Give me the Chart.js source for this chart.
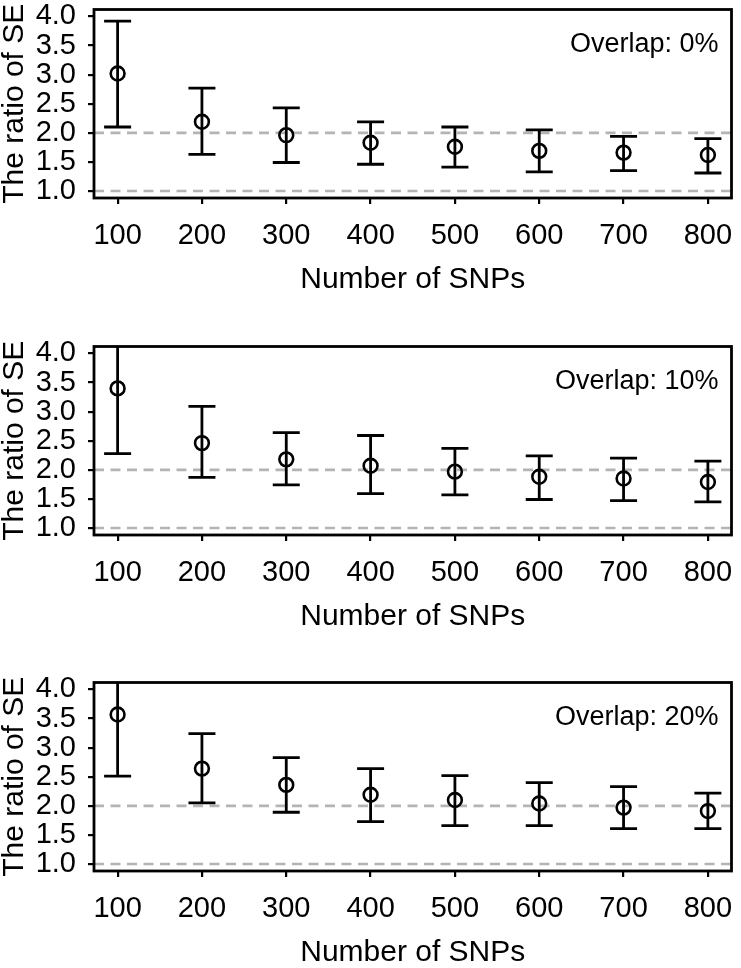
<!DOCTYPE html>
<html>
<head>
<meta charset="utf-8">
<script src="https://cdn.jsdelivr.net/npm/chart.js@4"></script>
<style>
  html, body { margin: 0; padding: 0; background: #ffffff; }
  body { width: 741px; height: 968px; overflow: hidden; position: relative; }
  .panel { position: absolute; left: 0; width: 741px; height: 337px; }
  canvas { display: block; }
</style>
</head>
<body>
<div class="panel" style="top:0px"><canvas id="c0" width="741" height="337"></canvas></div>
<div class="panel" style="top:337px"><canvas id="c1" width="741" height="337"></canvas></div>
<div class="panel" style="top:673px"><canvas id="c2" width="741" height="337"></canvas></div>
<script>
// ---- data ----
const snps = [100, 200, 300, 400, 500, 600, 700, 800];
const yTickValues = [1.0, 1.5, 2.0, 2.5, 3.0, 3.5, 4.0];
const refLines = [1.0, 2.0];
const panelLabels = ["Overlap: 0%", "Overlap: 10%", "Overlap: 20%"];
const xTitle = "Number of SNPs";
const yTitle = "The ratio of SE";

const mean0 = [3.02, 2.19, 1.96, 1.83, 1.76, 1.69, 1.66, 1.62];
const lower0 = [2.10, 1.63, 1.49, 1.46, 1.41, 1.33, 1.35, 1.31];
const upper0 = [3.92, 2.77, 2.43, 2.19, 2.10, 2.05, 1.94, 1.90];

const mean10 = [3.40, 2.46, 2.18, 2.07, 1.97, 1.88, 1.85, 1.79];
const lower10 = [2.28, 1.87, 1.74, 1.59, 1.57, 1.49, 1.47, 1.45];
const upper10 = [4.50, 3.09, 2.64, 2.59, 2.37, 2.24, 2.20, 2.15];

const mean20 = [3.57, 2.64, 2.36, 2.19, 2.10, 2.04, 1.97, 1.91];
const lower20 = [2.51, 2.05, 1.89, 1.73, 1.66, 1.66, 1.61, 1.61];
const upper20 = [4.60, 3.24, 2.83, 2.64, 2.52, 2.40, 2.33, 2.22];

const panels = [
  { label: panelLabels[0], mean: mean0, lower: lower0, upper: upper0 },
  { label: panelLabels[1], mean: mean10, lower: lower10, upper: upper10 },
  { label: panelLabels[2], mean: mean20, lower: lower20, upper: upper20 }
];

const FONT = "'Liberation Sans', Arial, Helvetica, sans-serif";
const xMin = 72, xMax = 828, yMin = 0.88, yMax = 4.12;

const errorBarPlugin = {
  id: 'errorBars',
  afterDatasetsDraw(chart, args, opts) {
    const { ctx, chartArea, scales } = chart;
    const xs = scales.x, ys = scales.y;
    ctx.save();
    ctx.beginPath();
    ctx.rect(chartArea.left, chartArea.top, chartArea.right - chartArea.left, chartArea.bottom - chartArea.top);
    ctx.clip();
    ctx.strokeStyle = '#000';
    ctx.lineWidth = 2.8;
    ctx.lineCap = 'butt';
    const capHalf = 13.5;
    opts.lower.forEach((lo, i) => {
      const x = xs.getPixelForValue(snps[i]);
      const yl = ys.getPixelForValue(lo);
      const yu = ys.getPixelForValue(opts.upper[i]);
      ctx.beginPath();
      ctx.moveTo(x, yl); ctx.lineTo(x, yu);
      ctx.moveTo(x - capHalf, yl); ctx.lineTo(x + capHalf, yl);
      ctx.moveTo(x - capHalf, yu); ctx.lineTo(x + capHalf, yu);
      ctx.stroke();
    });
    ctx.restore();
  },
  afterDraw(chart, args, opts) {
    const { ctx, chartArea } = chart;
    ctx.save();
    ctx.strokeStyle = '#000';
    ctx.lineWidth = 2.8;
    ctx.strokeRect(chartArea.left, chartArea.top, chartArea.right - chartArea.left, chartArea.bottom - chartArea.top);
    ctx.fillStyle = '#000';
    ctx.font = '27px ' + FONT;
    ctx.textAlign = 'right';
    ctx.textBaseline = 'middle';
    ctx.fillText(opts.text, chartArea.right - 13, chartArea.top + 35);
    ctx.restore();
  }
};

panels.forEach((p, k) => {
  const ctx = document.getElementById('c' + k).getContext('2d');
  const refDatasets = refLines.map(v => ({
    type: 'line',
    data: [{ x: xMin, y: v }, { x: xMax, y: v }],
    borderColor: '#b4b4b4',
    borderWidth: 2.6,
    borderDash: [10, 6.5],
    pointRadius: 0,
    fill: false,
    order: 2
  }));
  new Chart(ctx, {
    type: 'scatter',
    data: {
      datasets: [
        ...refDatasets,
        {
          type: 'scatter',
          data: snps.map((s, i) => ({ x: s, y: p.mean[i] })),
          pointStyle: 'circle',
          pointRadius: 6.9,
          pointBorderWidth: 2.6,
          pointBorderColor: '#000',
          pointBackgroundColor: 'rgba(0,0,0,0)',
          order: 1
        }
      ]
    },
    options: {
      responsive: false,
      animation: false,
      events: [],
      layout: { padding: { top: 5, left: 0, right: 4, bottom: 39 } },
      plugins: {
        legend: { display: false },
        tooltip: { enabled: false },
        errorBars: { lower: p.lower, upper: p.upper, text: p.label }
      },
      scales: {
        x: {
          type: 'linear',
          min: xMin, max: xMax,
          afterBuildTicks: (s) => { s.ticks = snps.map(v => ({ value: v })); },
          afterFit: (s) => { s.height = 100; s.paddingLeft = 0; s.paddingRight = 0; },
          ticks: {
            autoSkip: false, maxRotation: 0, padding: 15,
            color: '#000', font: { family: FONT, size: 29 },
            callback: (v) => String(v)
          },
          grid: { drawOnChartArea: false, drawTicks: true, tickLength: 6, color: '#000', lineWidth: 2.2 },
          border: { display: false },
          title: { display: true, text: xTitle, color: '#000', font: { family: FONT, size: 30 }, padding: 0 }
        },
        y: {
          type: 'linear',
          min: yMin, max: yMax,
          afterBuildTicks: (s) => { s.ticks = yTickValues.map(v => ({ value: v })); },
          afterFit: (s) => { s.width = 94; s.paddingTop = 0; s.paddingBottom = 0; },
          ticks: {
            autoSkip: false, padding: 12,
            color: '#000', font: { family: FONT, size: 29 },
            callback: (v) => Number(v).toFixed(1)
          },
          grid: { drawOnChartArea: false, drawTicks: true, tickLength: 6, color: '#000', lineWidth: 2.2 },
          border: { display: false },
          title: { display: true, text: yTitle, color: '#000', font: { family: FONT, size: 30, lineHeight: 1 }, padding: 0 }
        }
      }
    },
    plugins: [errorBarPlugin]
  });
});
</script>
</body>
</html>
